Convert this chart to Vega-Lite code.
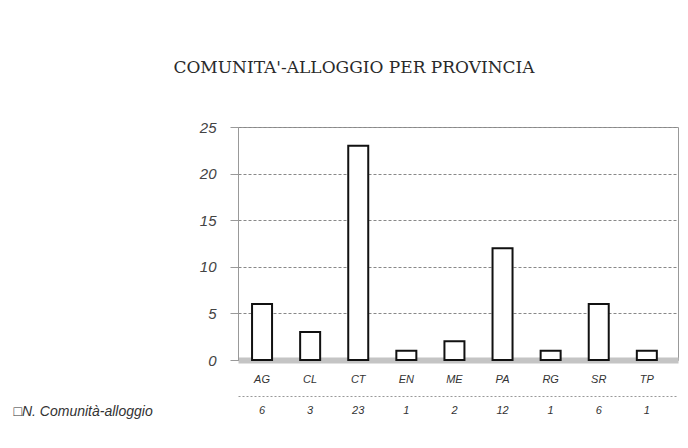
{
  "$schema": "https://vega.github.io/schema/vega-lite/v6.json",
  "autosize": {"type": "pad"},
  "padding": {"left": 13, "top": 58, "right": 10, "bottom": 10},
  "background": "white",
  "bounds": "flush",
  "spacing": 36,
  "data": {"values": [
    {"provincia": "AG", "n": 6},
    {"provincia": "CL", "n": 3},
    {"provincia": "CT", "n": 23},
    {"provincia": "EN", "n": 1},
    {"provincia": "ME", "n": 2},
    {"provincia": "PA", "n": 12},
    {"provincia": "RG", "n": 1},
    {"provincia": "SR", "n": 6},
    {"provincia": "TP", "n": 1}
  ]},
  "vconcat": [
    {
      "width": 440,
      "height": 233,
      "view": {"stroke": "#999"},
      "title": {"text": "COMUNITA'-ALLOGGIO PER PROVINCIA", "font": "DejaVu Serif", "fontSize": 17, "fontWeight": "normal", "color": "#2a2a2a", "anchor": "middle", "frame": "group", "offset": 43, "dx": -104},
      "mark": {"type": "bar", "fill": "white", "stroke": "#111", "strokeWidth": 2, "size": 20},
      "encoding": {
        "x": {"field": "provincia", "type": "nominal", "sort": null,
          "scale": {"type": "band", "paddingInner": 0, "paddingOuter": 0.074, "align": 0},
          "axis": {"title": null, "labelAngle": 0, "ticks": false, "domainColor": "#c4c4c4", "domainWidth": 6, "labelPadding": 13, "labelFont": "Liberation Sans", "labelFontStyle": "italic", "labelFontSize": 11, "labelColor": "#333"}},
        "y": {"field": "n", "type": "quantitative", "scale": {"domain": [0, 25]},
          "axis": {"title": null, "values": [0, 5, 10, 15, 20, 25], "tickSize": 8, "tickColor": "#999", "domainColor": "#999", "labelPadding": 14, "labelFont": "Liberation Sans", "labelFontStyle": "italic", "labelFontSize": 15, "labelColor": "#444", "gridColor": "#888", "gridDash": [3, 2]}}
      }
    },
    {
      "width": 440,
      "height": 30,
      "view": {"stroke": null},
      "mark": {"type": "text", "font": "Liberation Sans", "fontStyle": "italic", "fontSize": 11, "color": "#333"},
      "encoding": {
        "x": {"field": "provincia", "type": "nominal", "sort": null, "bandPosition": 0.5,
          "scale": {"type": "band", "paddingInner": 0, "paddingOuter": 0.074, "align": 0},
          "axis": {"orient": "top", "title": null, "labels": false, "ticks": false, "domainColor": "#999", "domainDash": [2, 2]}},
        "y": {"datum": "□N. Comunità-alloggio", "type": "nominal",
          "axis": {"title": null, "ticks": false, "domain": false, "labelAlign": "left", "labelPadding": 225, "labelFont": "Liberation Sans", "labelFontStyle": "italic", "labelFontSize": 14, "labelColor": "#333"}},
        "text": {"field": "n", "type": "quantitative"}
      }
    }
  ]
}
